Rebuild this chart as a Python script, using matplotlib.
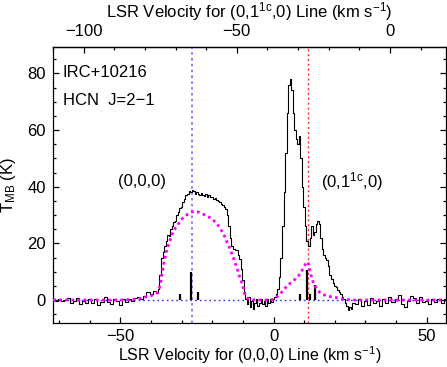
import matplotlib
matplotlib.use("Agg")
import matplotlib.pyplot as plt
from matplotlib.ticker import MultipleLocator, FixedLocator

plt.rcParams['font.family'] = ['Liberation Sans', 'DejaVu Sans']
plt.rcParams['mathtext.fontset'] = 'custom'
plt.rcParams['mathtext.rm'] = 'Liberation Sans'
plt.rcParams['mathtext.it'] = 'Liberation Sans'

# ---------------- data ----------------
# observed spectrum (black), velocity for (0,0,0) line, km/s
obs_v = [-72, -71, -70, -69, -68, -67, -66, -65, -64, -63, -62, -61, -60, -59, -58,
         -57, -56, -55, -54, -53, -52, -51, -50, -49, -48, -47, -46, -45, -44, -43,
         -42, -41, -40, -39, -38,
         -37.5, -37, -36.5, -36, -35.5, -35, -34.5, -34, -33.5, -33, -32.5, -32,
         -31.5, -31, -30.5, -30, -29.5, -29, -28.5, -28, -27.5, -27, -26.5, -26,
         -25.5, -25, -24.5, -24, -23.5, -23, -22.5, -22, -21.5, -21, -20.5, -20,
         -19.5, -19, -18.5, -18, -17.5, -17, -16.5, -16, -15.5, -15, -14.5, -14,
         -13.5, -13, -12.5, -12, -11.5, -11, -10.5, -10, -9.5, -9,
         -8.5, -8, -7.5, -7, -6.5, -6, -5.5, -5, -4.5, -4, -3.5, -3, -2.5, -2,
         -1.5, -1, -0.5, 0, 0.5, 1, 1.5,
         2, 2.5, 3, 3.5, 4, 4.5, 5, 5.5, 6, 6.5, 7, 7.5, 8, 8.5, 9, 9.5, 10,
         10.5, 11, 11.5, 12, 12.5, 13, 13.5, 14, 14.5, 15, 15.5, 16, 16.5, 17,
         17.5, 18, 18.5, 19, 19.5, 20, 20.5, 21, 21.5, 22, 22.5, 23, 23.5, 24,
         24.5, 25, 25.5, 26, 27, 28, 29, 30, 31, 32, 33, 34, 35, 36, 37, 38, 39,
         40, 41, 42, 43, 44, 45, 46, 47, 48, 49, 50, 51, 52, 53, 54, 55, 56]
obs_T = [0.3, -0.2, 0.5, -0.4, 0.1, 0.6, -1.2, -0.5, 0.8, -1.5, -0.3, -0.9, 0.4,
         -1.1, 0.2, -1.8, -0.6, 0.9, -0.7, -1.3, 0.3, -0.4, -1.6, 0.5, -0.8, 0.2,
         -0.3, 0.6, 1.2, 0.4,
         1.5, 2.8, 2.0, 3.2, 2.5,
         4.0, 9.0, 15.0, 17.0, 19.0, 21.0, 23.0, 22.5, 25.0, 26.0, 27.5, 28.0,
         30.0, 31.0, 32.5, 33.0, 34.5, 35.5, 37.0, 37.5, 38.5, 38.0, 39.0, 38.5,
         37.5, 38.0, 37.5, 37.0, 37.8, 37.2, 36.8, 37.5, 36.5, 37.0, 36.2, 36.5,
         35.8, 36.0, 35.2, 35.0, 34.5, 34.0, 33.5, 33.0, 32.0, 30.0, 26.0, 22.0,
         19.0, 18.0, 17.5, 17.5, 16.0, 14.5, 11.0, 7.0, 3.0, 0.5,
         -1.5, 1.0, -2.5, -0.5, -3.0, -1.0, 0.5, -2.0, -1.0, 0.5, -1.5, -0.5,
         -2.0, 0.3, -1.0, 0.5, -0.8, 0.5, 1.0, 2.0, 4.0,
         8.0, 15.0, 26.0, 38.0, 52.0, 66.0, 76.0, 78.0, 74.0, 66.0, 60.0, 57.0,
         55.0, 58.0, 50.0, 40.0, 33.0, 26.0, 21.0, 19.0, 22.0, 26.0, 23.0, 24.0,
         27.0, 28.0, 27.0, 22.0, 18.0, 16.0, 15.0, 14.0, 12.0, 9.0, 7.5, 6.0,
         5.0, 4.5, 3.5, 3.0, 2.0, 1.0, 0.5, -1.0, -2.0, -3.5, -2.5, -3.0, -1.0,
         -1.5, 0.5, -2.0, -0.5, -1.8, 0.8, -1.2, -0.3, -2.2, 0.4, -0.9, 1.2,
         -0.6, 0.3, 1.8, -1.5, -2.5, -0.4, 1.5, 0.6, -1.0, 0.9, -0.8, -0.2,
         -1.4, 0.5, -0.6, 0.2, -0.9, 0.4]

# model (magenta dotted)
mod_v = [-72, -50, -46, -44, -42, -40, -39, -38, -37, -36, -35, -34, -33, -32,
         -31, -30, -29, -28, -27, -26, -25, -24, -23, -22, -21, -20, -19, -18,
         -17, -16, -15, -14, -13, -12, -11, -10, -9.5, -9, -8, -6, -1, 0, 1, 2,
         3, 4, 5, 6, 7, 8, 9, 10, 11, 11.5, 12, 13, 14, 15, 16, 18, 20, 22, 24,
         26, 56]
mod_T = [0.0, 0.0, 0.2, 0.5, 1.0, 1.5, 2.0, 2.5, 5.0, 12.0, 17.0, 20.5, 23.5,
         25.5, 27.0, 28.5, 29.5, 30.3, 31.0, 31.3, 31.2, 30.8, 30.3, 29.8, 29.2,
         28.5, 27.5, 26.2, 24.5, 22.5, 20.0, 17.5, 14.5, 11.5, 8.0, 5.0, 2.5,
         1.0, 0.3, 0.0, 0.0, 0.3, 1.0, 2.0, 3.2, 4.5, 5.5, 6.5, 7.3, 8.3, 9.8,
         12.0, 13.5, 12.5, 9.5, 6.0, 4.0, 2.8, 2.0, 1.3, 1.0, 0.5, 0.2, 0.0, 0.0]

# vertical stick marks
stick_v = [-30.7, -26.8, -24.7, 8.5, 10.9, 12.0, 13.4]
stick_T = [2.0, 10.0, 3.0, 2.3, 10.5, 2.0, 5.3]

v_sys_000 = -26.6        # systemic velocity line (0,0,0) axis
v_sys_011 = -26.6        # systemic velocity on (0,1^1c,0) axis
axis_offset = 38.0       # v(0,1^1c,0) = v(0,0,0) - offset

xlim = (-72, 56.3)
ylim = (-8.1, 89.3)
top_major = [-100, -50, 0]
top_minor = [-110, -90, -80, -70, -60, -40, -30, -20, -10, 10]

FS = 12

# ---------------- figure ----------------
fig = plt.figure(figsize=(4.47, 3.67), dpi=100)
ax = fig.add_axes([0.1186, 0.1199, 0.8792, 0.7521])

ax.axhline(0, color='#3030ff', ls=(0, (1.2, 2.2)), lw=1.0, zorder=1)
ax.axvline(v_sys_000, color='#7a66ff', ls=(0, (1.5, 2.0)), lw=1.2, zorder=1)
ax.axvline(v_sys_011 + axis_offset, color='#ff3030', ls=(0, (1.5, 2.0)), lw=1.0, zorder=1)

ax.plot(obs_v, obs_T, color='black', lw=0.8, drawstyle='steps-mid', zorder=3)
ax.vlines(stick_v, 0, stick_T, color='black', lw=1.6, zorder=3)
ax.plot(mod_v, mod_T, color='#ff00ff', lw=2.0, ls=(0, (1, 1.2)), zorder=4)

ax.set_xlim(*xlim)
ax.set_ylim(*ylim)

ax.xaxis.set_major_locator(MultipleLocator(50))
ax.xaxis.set_minor_locator(MultipleLocator(10))
ax.yaxis.set_major_locator(MultipleLocator(20))
ax.yaxis.set_minor_locator(MultipleLocator(5))
ax.tick_params(which='both', direction='in', top=False, right=True,
               labelsize=FS, width=0.9)
ax.tick_params(which='major', length=4.3)
ax.tick_params(which='minor', length=2.2)
ax.tick_params(axis='x', which='both', pad=4.5)
ax.tick_params(axis='y', which='both', pad=5)

secax = ax.secondary_xaxis('top', functions=(lambda v: v - axis_offset,
                                              lambda v: v + axis_offset))
secax.xaxis.set_major_locator(FixedLocator(top_major))
secax.xaxis.set_minor_locator(FixedLocator(top_minor))
secax.tick_params(which='both', direction='in', labelsize=FS, width=0.9, pad=6)
secax.tick_params(which='major', length=4.3)
secax.tick_params(which='minor', length=2.2)
secax.spines['top'].set_linewidth(0.9)

ax_cx = 0.1186 + 0.8792 / 2
fig.text(ax_cx, 1 - 17 / 367,
         r'LSR Velocity for (0,1$^{\rm 1c}$,0) Line (km s$^{-1}$)',
         fontsize=FS, ha='center', va='baseline')
fig.text(ax_cx, 5.5 / 367,
         r'LSR Velocity for (0,0,0) Line (km s$^{-1}$)',
         fontsize=11.5, ha='center', va='baseline')
ax.set_ylabel(r'T$_{\rm MB}$ (K)', fontsize=FS, labelpad=7)

for sp in ax.spines.values():
    sp.set_linewidth(0.9)

ax.text(-68.8, 80.2, 'IRC+10216', fontsize=FS, va='center', ha='left')
ax.text(-68.8, 70.3, 'HCN  J=2\u22121', fontsize=FS, va='center', ha='left')
ax.text(-42.8, 41.7, '(0,0,0)', fontsize=FS, va='center', ha='center')
ax.text(25.5, 41.7, r'(0,1$^{\rm 1c}$,0)', fontsize=FS, va='center', ha='center')

fig.savefig('out.png', dpi=100)
